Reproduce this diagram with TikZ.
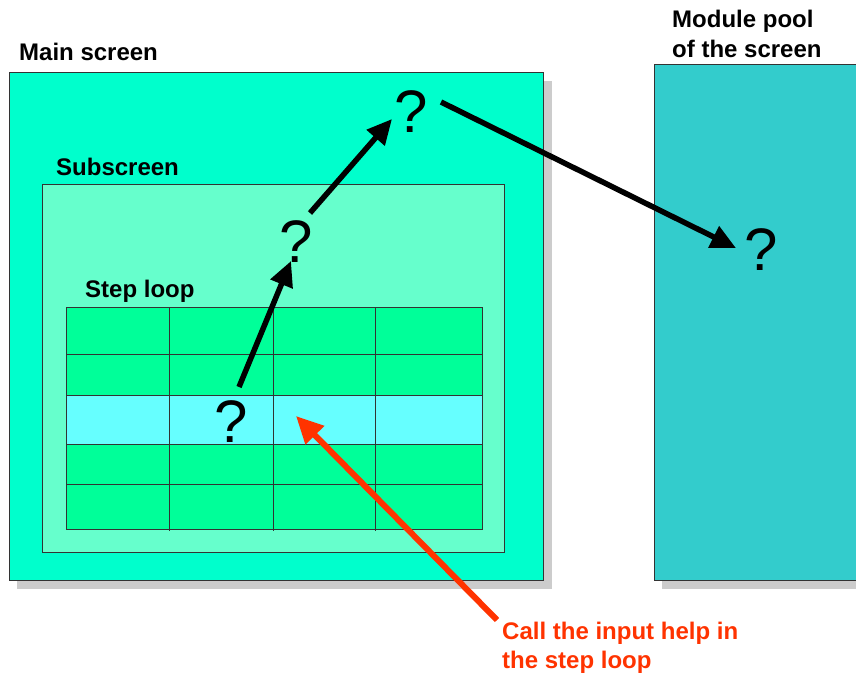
\documentclass[tikz,border=0pt]{standalone}
\usepackage{fontspec}
\setmainfont{Liberation Sans}
\usetikzlibrary{arrows.meta}
\definecolor{mainc}{HTML}{00FFCC}
\definecolor{subc}{HTML}{66FFCC}
\definecolor{cellc}{HTML}{00FF99}
\definecolor{hic}{HTML}{66FFFF}
\definecolor{poolc}{HTML}{33CCCC}
\definecolor{shadowc}{HTML}{CCCCCC}
\definecolor{redc}{HTML}{FF3300}
\tikzset{
  boxline/.style={draw=black!80, line width=1pt},
  lbl/.style={anchor=base west, inner sep=0pt, font=\fontsize{24}{29}\selectfont\bfseries},
  qm/.style={anchor=base, inner sep=0pt, font=\fontsize{60}{60}\selectfont},
  blackarrow/.style={line width=5.5pt, -{Triangle[length=25pt,width=23pt]}},
  redarrow/.style={draw=redc, line width=6pt, -{Triangle[length=27pt,width=25pt]}},
}
\begin{document}
\begin{tikzpicture}[x=1pt,y=-1pt]
\useasboundingbox (0,0) rectangle (856,674);
\clip (0,0) rectangle (856,674);
% shadows
\fill[shadowc] (17,81) rectangle (552,589);
\fill[shadowc] (662,73) rectangle (870,589);
% main screen
\draw[boxline, fill=mainc] (9,73) rectangle (543,580);
% module pool
\draw[boxline, fill=poolc] (654,65) rectangle (870,580);
% subscreen
\draw[boxline, fill=subc] (42,184) rectangle (504,552);
% grid
\fill[cellc] (66,307) rectangle (482,529);
\fill[hic] (66,395) rectangle (482,444);
\draw[boxline] (66,307) rectangle (482,529);
\foreach \y in {354,395,444,484} \draw[boxline] (66,\y) -- (482,\y);
\foreach \x in {169,273,375} \draw[boxline] (\x,307) -- (\x,531);
% labels
\node[lbl] (lmain) at (19,61) {Main screen};
\node[lbl] (lsub) at (56,175) {Subscreen};
\node[lbl] (lstep) at (85,297) {Step loop};
\node[lbl] (lpool1) at (672,28) {Module pool};
\node[lbl] (lpool2) at (672,58) {of the screen};
\node[lbl, text=redc] (lred1) at (502,639) {Call the input help in};
\node[lbl, text=redc] (lred2) at (502,668) {the step loop};
% question marks
\node[qm] (q1) at (231,442) {?};
\node[qm] (q2) at (296,262) {?};
\node[qm] (q3) at (411,132) {?};
\node[qm] (q4) at (761,270) {?};
% arrow endpoints
\coordinate (a1s) at (239,387);
\coordinate (a1e) at (291,261);
\coordinate (a2s) at (310,213);
\coordinate (a2e) at (392,119);
\coordinate (a3s) at (441,102);
\coordinate (a3e) at (736,248);
\coordinate (rs) at (497,620);
\coordinate (re) at (296,416);
\draw[blackarrow] (a1s) -- (a1e);
\draw[blackarrow] (a2s) -- (a2e);
\draw[blackarrow] (a3s) -- (a3e);
\draw[redarrow] (rs) -- (re);
\end{tikzpicture}
\end{document}
